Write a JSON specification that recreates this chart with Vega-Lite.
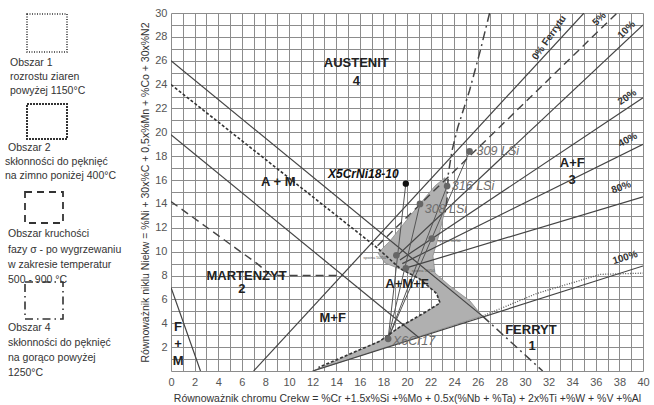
{
  "$schema": "https://vega.github.io/schema/vega-lite/v6.json",
  "autosize": {"type": "pad"},
  "padding": {"left": 0, "top": 7, "right": 11, "bottom": 5},
  "background": "white",
  "config": {"view": {"stroke": null}, "font": "Liberation Sans"},
  "spacing": 21,
  "bounds": "flush",
  "datasets": {
    "legend": [
      {"k": "b1", "x": 27, "x2": 67, "y": 1, "y2": 39},
      {"k": "b2", "x": 27, "x2": 67, "y": 91, "y2": 126},
      {"k": "b3", "x": 25, "x2": 63, "y": 179, "y2": 210},
      {"k": "b4", "x": 25, "x2": 63, "y": 269, "y2": 306}
    ],
    "legendText": [
      {"x": 10, "y": 50, "t": "Obszar 1"},
      {"x": 10, "y": 64, "t": "rozrostu ziaren"},
      {"x": 10, "y": 78, "t": "powyżej 1150°C"},
      {"x": 8, "y": 135, "t": "Obszar 2"},
      {"x": 5, "y": 149, "t": "skłonności do pęknięć"},
      {"x": 5, "y": 163, "t": "na zimno poniżej 400°C"},
      {"x": 8, "y": 221, "t": "Obszar kruchości"},
      {"x": 8, "y": 237, "t": "fazy σ - po wygrzewaniu"},
      {"x": 8, "y": 252, "t": "w zakresie temperatur"},
      {"x": 8, "y": 267, "t": "500 - 900 °C"},
      {"x": 8, "y": 315, "t": "Obszar 4"},
      {"x": 8, "y": 330, "t": "skłonności do pęknięć"},
      {"x": 8, "y": 345, "t": "na gorąco powyżej"},
      {"x": 8, "y": 360, "t": "1250°C"}
    ],
    "poly": [
      {"o": 1, "x": 12.03, "y": 0},
      {"o": 2, "x": 26.36, "y": 4.61},
      {"o": 3, "x": 25.34, "y": 5.87},
      {"o": 4, "x": 23.64, "y": 7.12},
      {"o": 5, "x": 22.37, "y": 8.21},
      {"o": 6, "x": 22.2, "y": 9.64},
      {"o": 7, "x": 22.8, "y": 11.74},
      {"o": 8, "x": 23.39, "y": 14.25},
      {"o": 9, "x": 23.22, "y": 16.2},
      {"o": 10, "x": 22.37, "y": 15.51},
      {"o": 11, "x": 20.25, "y": 12.99},
      {"o": 12, "x": 18.56, "y": 10.9},
      {"o": 13, "x": 17.54, "y": 9.89},
      {"o": 14, "x": 18.14, "y": 9.05},
      {"o": 15, "x": 19.41, "y": 8.55},
      {"o": 16, "x": 21.1, "y": 7.71},
      {"o": 17, "x": 22.54, "y": 6.54},
      {"o": 18, "x": 22.8, "y": 5.7},
      {"o": 19, "x": 21.53, "y": 4.86},
      {"o": 20, "x": 19.41, "y": 3.69},
      {"o": 21, "x": 17.71, "y": 2.51},
      {"o": 22, "x": 12.03, "y": 0}
    ],
    "lines": [
      {"id": "L1", "s": "solid", "o": 1, "x": 0, "y": 26},
      {"id": "L1", "s": "solid", "o": 2, "x": 26.4, "y": 4.6},
      {"id": "L3", "s": "solid", "o": 1, "x": 0, "y": 19.8},
      {"id": "L3", "s": "solid", "o": 2, "x": 21.0, "y": 2.8},
      {"id": "L5", "s": "solid", "o": 1, "x": 0, "y": 7},
      {"id": "L5", "s": "solid", "o": 2, "x": 2.5, "y": 0},
      {"id": "F0", "s": "solid", "o": 1, "x": 7, "y": 0},
      {"id": "F0", "s": "solid", "o": 2, "x": 35, "y": 30},
      {"id": "F10", "s": "solid", "o": 1, "x": 19, "y": 9.5},
      {"id": "F10", "s": "solid", "o": 2, "x": 40, "y": 29.0},
      {"id": "F20", "s": "solid", "o": 1, "x": 19.4, "y": 9.3},
      {"id": "F20", "s": "solid", "o": 2, "x": 40, "y": 22.9},
      {"id": "F40", "s": "solid", "o": 1, "x": 19.6, "y": 9.0},
      {"id": "F40", "s": "solid", "o": 2, "x": 40, "y": 19.0},
      {"id": "F80", "s": "solid", "o": 1, "x": 19.8, "y": 8.6},
      {"id": "F80", "s": "solid", "o": 2, "x": 40, "y": 14.6},
      {"id": "F100", "s": "solid", "o": 1, "x": 12, "y": 0},
      {"id": "F100", "s": "solid", "o": 2, "x": 40, "y": 8.8},
      {"id": "F5", "s": "dash", "o": 1, "x": 17.5, "y": 10.5},
      {"id": "F5", "s": "dash", "o": 2, "x": 37.8, "y": 30},
      {"id": "L4", "s": "dash", "o": 1, "x": 0, "y": 14.2},
      {"id": "L4", "s": "dash", "o": 2, "x": 7.3, "y": 9.0},
      {"id": "L4", "s": "dash", "o": 3, "x": 8.5, "y": 8.0},
      {"id": "L4", "s": "dash", "o": 4, "x": 14.4, "y": 8.0},
      {"id": "L2", "s": "sdash", "o": 1, "x": 0, "y": 24},
      {"id": "L2", "s": "sdash", "o": 2, "x": 17.5, "y": 10.3},
      {"id": "L2", "s": "sdash", "o": 3, "x": 19.4, "y": 8.6},
      {"id": "L2", "s": "sdash", "o": 4, "x": 21.1, "y": 7.7},
      {"id": "L2", "s": "sdash", "o": 5, "x": 22.5, "y": 6.5},
      {"id": "L2", "s": "sdash", "o": 6, "x": 22.8, "y": 5.7},
      {"id": "L2", "s": "sdash", "o": 7, "x": 21.5, "y": 4.9},
      {"id": "L2", "s": "sdash", "o": 8, "x": 19.4, "y": 3.7},
      {"id": "L2", "s": "sdash", "o": 9, "x": 17.7, "y": 2.5},
      {"id": "L2", "s": "sdash", "o": 10, "x": 12.5, "y": 0.3},
      {"id": "D1", "s": "dot", "o": 1, "x": 26.4, "y": 4.6},
      {"id": "D1", "s": "dot", "o": 2, "x": 31, "y": 6.5},
      {"id": "D1", "s": "dot", "o": 3, "x": 36.4, "y": 8.1},
      {"id": "D1", "s": "dot", "o": 4, "x": 40, "y": 8.2},
      {"id": "DD", "s": "dashdot", "o": 1, "x": 26.4, "y": 4.6},
      {"id": "DD", "s": "dashdot", "o": 2, "x": 31.5, "y": 0},
      {"id": "DC", "s": "dashdot", "o": 1, "x": 27.0, "y": 30},
      {"id": "DC", "s": "dashdot", "o": 2, "x": 26.2, "y": 26.8},
      {"id": "DC", "s": "dashdot", "o": 3, "x": 25.3, "y": 23.5},
      {"id": "DC", "s": "dashdot", "o": 4, "x": 24.3, "y": 20.4},
      {"id": "DC", "s": "dashdot", "o": 5, "x": 23.8, "y": 18.4},
      {"id": "DC", "s": "dashdot", "o": 6, "x": 23.5, "y": 16.5},
      {"id": "DC", "s": "dashdot", "o": 7, "x": 23.4, "y": 14.5},
      {"id": "DC", "s": "dashdot", "o": 8, "x": 23.2, "y": 13.0},
      {"id": "M1", "s": "mix", "o": 1, "x": 18.4, "y": 2.7},
      {"id": "M1", "s": "mix", "o": 2, "x": 19.9, "y": 15.7},
      {"id": "M2", "s": "mix", "o": 1, "x": 18.4, "y": 2.7},
      {"id": "M2", "s": "mix", "o": 2, "x": 21.1, "y": 14.0},
      {"id": "M3", "s": "mix", "o": 1, "x": 18.4, "y": 2.7},
      {"id": "M3", "s": "mix", "o": 2, "x": 23.4, "y": 15.5},
      {"id": "M4", "s": "mix", "o": 1, "x": 18.4, "y": 2.7},
      {"id": "M4", "s": "mix", "o": 2, "x": 25.3, "y": 18.4}
    ],
    "points": [
      {"k": "main", "x": 19.9, "y": 15.7},
      {"k": "fill", "x": 25.3, "y": 18.4},
      {"k": "fill", "x": 23.4, "y": 15.5},
      {"k": "fill", "x": 21.1, "y": 14.0},
      {"k": "fill", "x": 18.4, "y": 2.7},
      {"k": "weld", "x": 22.1, "y": 11.1},
      {"k": "weld", "x": 19.1, "y": 9.7},
      {"k": "weld", "x": 19.9, "y": 8.6}
    ],
    "labels": [
      {"g": "region", "x": 15.7, "y": 25.8, "t": "AUSTENIT"},
      {"g": "region", "x": 15.7, "y": 24.3, "t": "4"},
      {"g": "region", "x": 9.1, "y": 15.8, "t": "A + M"},
      {"g": "region", "x": 6.4, "y": 8.0, "t": "MARTENZYT"},
      {"g": "region", "x": 6.0, "y": 6.9, "t": "2"},
      {"g": "region", "x": 20.0, "y": 7.3, "t": "A+M+F"},
      {"g": "region", "x": 13.7, "y": 4.4, "t": "M+F"},
      {"g": "region", "x": 34.0, "y": 17.4, "t": "A+F"},
      {"g": "region", "x": 34.0, "y": 16.0, "t": "3"},
      {"g": "region", "x": 30.5, "y": 3.4, "t": "FERRYT"},
      {"g": "region", "x": 30.6, "y": 2.1, "t": "1"},
      {"g": "region", "x": 0.6, "y": 3.7, "t": "F"},
      {"g": "region", "x": 0.6, "y": 2.3, "t": "+"},
      {"g": "region", "x": 0.6, "y": 0.85, "t": "M"},
      {"g": "steel", "x": 16.3, "y": 16.5, "t": "X5CrNi18-10"},
      {"g": "filler", "x": 25.9, "y": 18.4, "t": "309 LSi"},
      {"g": "filler", "x": 23.8, "y": 15.5, "t": "316 LSi"},
      {"g": "filler", "x": 21.5, "y": 13.6, "t": "308 LSi"},
      {"g": "filler", "x": 18.8, "y": 2.5, "t": "X6Cr17"},
      {"g": "weld", "x": 22.6, "y": 10.9, "t": "spoina 50/50"},
      {"g": "weld", "x": 16.3, "y": 9.5, "t": "spoina 50/50"},
      {"g": "weld", "x": 20.4, "y": 8.4, "t": "spoina 50/50"},
      {"g": "f0", "x": 32.4, "y": 27.7, "t": "0% Ferrytu"},
      {"g": "f5", "x": 36.6, "y": 29.2, "t": "5%"},
      {"g": "f10", "x": 38.9, "y": 28.3, "t": "10%"},
      {"g": "f20", "x": 38.9, "y": 22.6, "t": "20%"},
      {"g": "f40", "x": 38.9, "y": 19.0, "t": "40%"},
      {"g": "f80", "x": 38.3, "y": 15.0, "t": "80%"},
      {"g": "f100", "x": 38.6, "y": 9.1, "t": "100%"}
    ]
  },
  "hconcat": [
    {
      "width": 150,
      "height": 358,
      "layer": [
        {
          "data": {"name": "legend"},
          "transform": [{"filter": "datum.k == 'b1'"}],
          "mark": {"type": "rect", "filled": false, "stroke": "#333", "strokeWidth": 1.6, "strokeDash": [1, 1.5]},
          "encoding": {
            "x": {"field": "x", "type": "quantitative", "scale": {"domain": [0, 150], "nice": false}, "axis": null},
            "x2": {"field": "x2"},
            "y": {"field": "y", "type": "quantitative", "scale": {"domain": [0, 358], "range": [0, 358], "nice": false}, "axis": null},
            "y2": {"field": "y2"}
          }
        },
        {
          "data": {"name": "legend"},
          "transform": [{"filter": "datum.k == 'b2'"}],
          "mark": {"type": "rect", "filled": false, "stroke": "#333", "strokeWidth": 2, "strokeDash": [2, 1]},
          "encoding": {"x": {"field": "x", "type": "quantitative"}, "x2": {"field": "x2"}, "y": {"field": "y", "type": "quantitative"}, "y2": {"field": "y2"}}
        },
        {
          "data": {"name": "legend"},
          "transform": [{"filter": "datum.k == 'b3'"}],
          "mark": {"type": "rect", "filled": false, "stroke": "#333", "strokeWidth": 1.8, "strokeDash": [7, 5]},
          "encoding": {"x": {"field": "x", "type": "quantitative"}, "x2": {"field": "x2"}, "y": {"field": "y", "type": "quantitative"}, "y2": {"field": "y2"}}
        },
        {
          "data": {"name": "legend"},
          "transform": [{"filter": "datum.k == 'b4'"}],
          "mark": {"type": "rect", "filled": false, "stroke": "#333", "strokeWidth": 1.6, "strokeDash": [8, 4, 1.5, 4]},
          "encoding": {"x": {"field": "x", "type": "quantitative"}, "x2": {"field": "x2"}, "y": {"field": "y", "type": "quantitative"}, "y2": {"field": "y2"}}
        },
        {
          "data": {"name": "legendText"},
          "mark": {"type": "text", "align": "left", "baseline": "middle", "fontSize": 10.5, "color": "#333"},
          "encoding": {
            "x": {"field": "x", "type": "quantitative"},
            "y": {"field": "y", "type": "quantitative"},
            "text": {"field": "t"}
          }
        }
      ]
    },
    {
      "width": 472,
      "height": 358,
      "encoding": {
        "x": {"field": "x", "type": "quantitative",
          "scale": {"domain": [0, 40], "nice": false, "zero": false},
          "axis": {"title": "Równoważnik chromu Crekw = %Cr +1.5x%Si +%Mo + 0.5x(%Nb + %Ta) + 2x%Ti +%W + %V +%Al",
            "values": [0,1,2,3,4,5,6,7,8,9,10,11,12,13,14,15,16,17,18,19,20,21,22,23,24,25,26,27,28,29,30,31,32,33,34,35,36,37,38,39,40],
            "labelExpr": "datum.value % 2 == 0 ? datum.label : ''",
            "labelOverlap": false, "labelFlush": false,
            "grid": true, "gridColor": "#8c8c8c", "gridOpacity": 1, "gridWidth": 1,
            "domain": false, "ticks": false, "labelPadding": 5, "labelFontSize": 11, "labelColor": "#555",
            "titleFontSize": 10.5, "titleFontWeight": "normal", "titleColor": "#333", "titlePadding": 6}},
        "y": {"field": "y", "type": "quantitative",
          "scale": {"domain": [0, 30], "nice": false, "zero": false},
          "axis": {"title": "Równoważnik niklu Niekw = %Ni + 30x%C + 0,5x%Mn + %Co + 30x%N2",
            "values": [0,1,2,3,4,5,6,7,8,9,10,11,12,13,14,15,16,17,18,19,20,21,22,23,24,25,26,27,28,29,30],
            "labelExpr": "datum.value % 2 == 0 && datum.value > 0 ? datum.label : ''",
            "labelOverlap": false, "labelFlush": false,
            "grid": true, "gridColor": "#8c8c8c", "gridOpacity": 1, "gridWidth": 1,
            "domain": false, "ticks": false, "labelPadding": 4, "labelFontSize": 11, "labelColor": "#555",
            "titleFontSize": 10.5, "titleFontWeight": "normal", "titleColor": "#333", "titlePadding": 4}}
      },
      "layer": [
        {
          "data": {"name": "poly"},
          "mark": {"type": "line", "fill": "#b0b0b0", "stroke": "#8a8a8a", "strokeWidth": 0.8, "clip": true},
          "encoding": {"order": {"field": "o", "type": "quantitative"}}
        },
        {
          "data": {"name": "lines"},
          "transform": [{"filter": "datum.s == 'solid'"}],
          "mark": {"type": "line", "color": "#444", "strokeWidth": 1.2, "clip": true},
          "encoding": {"detail": {"field": "id"}, "order": {"field": "o", "type": "quantitative"}}
        },
        {
          "data": {"name": "lines"},
          "transform": [{"filter": "datum.s == 'mix'"}],
          "mark": {"type": "line", "color": "#555", "strokeWidth": 1, "clip": true},
          "encoding": {"detail": {"field": "id"}, "order": {"field": "o", "type": "quantitative"}}
        },
        {
          "data": {"name": "lines"},
          "transform": [{"filter": "datum.s == 'dash'"}],
          "mark": {"type": "line", "color": "#444", "strokeWidth": 1.4, "strokeDash": [8, 5], "clip": true},
          "encoding": {"detail": {"field": "id"}, "order": {"field": "o", "type": "quantitative"}}
        },
        {
          "data": {"name": "lines"},
          "transform": [{"filter": "datum.s == 'sdash'"}],
          "mark": {"type": "line", "color": "#333", "strokeWidth": 1.6, "strokeDash": [3, 2], "clip": true},
          "encoding": {"detail": {"field": "id"}, "order": {"field": "o", "type": "quantitative"}}
        },
        {
          "data": {"name": "lines"},
          "transform": [{"filter": "datum.s == 'dot'"}],
          "mark": {"type": "line", "color": "#555", "strokeWidth": 1.3, "strokeDash": [1, 1.5], "clip": true},
          "encoding": {"detail": {"field": "id"}, "order": {"field": "o", "type": "quantitative"}}
        },
        {
          "data": {"name": "lines"},
          "transform": [{"filter": "datum.s == 'dashdot'"}],
          "mark": {"type": "line", "color": "#444", "strokeWidth": 1.5, "strokeDash": [9, 4, 2, 4], "clip": true},
          "encoding": {"detail": {"field": "id"}, "order": {"field": "o", "type": "quantitative"}}
        },
        {
          "data": {"name": "points"},
          "transform": [{"filter": "datum.k == 'main'"}],
          "mark": {"type": "circle", "color": "#111", "size": 40, "opacity": 1}
        },
        {
          "data": {"name": "points"},
          "transform": [{"filter": "datum.k != 'main'"}],
          "mark": {"type": "circle", "color": "#666", "size": 45, "opacity": 1}
        },
        {
          "data": {"name": "labels"},
          "transform": [{"filter": "datum.g == 'region'"}],
          "mark": {"type": "text", "fontSize": 13, "fontWeight": "bold", "color": "#222", "baseline": "middle"},
          "encoding": {"text": {"field": "t"}}
        },
        {
          "data": {"name": "labels"},
          "transform": [{"filter": "datum.g == 'steel'"}],
          "mark": {"type": "text", "fontSize": 12, "fontWeight": "bold", "fontStyle": "italic", "color": "#111", "baseline": "middle"},
          "encoding": {"text": {"field": "t"}}
        },
        {
          "data": {"name": "labels"},
          "transform": [{"filter": "datum.g == 'filler'"}],
          "mark": {"type": "text", "fontSize": 12.5, "fontStyle": "italic", "color": "#6e6e6e", "align": "left", "baseline": "middle"},
          "encoding": {"text": {"field": "t"}}
        },
        {
          "data": {"name": "labels"},
          "transform": [{"filter": "datum.g == 'weld'"}],
          "mark": {"type": "text", "fontSize": 4, "color": "#555", "align": "left", "baseline": "middle"},
          "encoding": {"text": {"field": "t"}}
        },
        {
          "data": {"name": "labels"},
          "transform": [{"filter": "datum.g == 'f0'"}],
          "mark": {"type": "text", "fontSize": 10, "fontWeight": "bold", "color": "#333", "angle": 305, "baseline": "bottom"},
          "encoding": {"text": {"field": "t"}}
        },
        {
          "data": {"name": "labels"},
          "transform": [{"filter": "datum.g == 'f5' || datum.g == 'f10'"}],
          "mark": {"type": "text", "fontSize": 10, "fontWeight": "bold", "color": "#333", "angle": 315, "baseline": "bottom"},
          "encoding": {"text": {"field": "t"}}
        },
        {
          "data": {"name": "labels"},
          "transform": [{"filter": "datum.g == 'f20'"}],
          "mark": {"type": "text", "fontSize": 10, "fontWeight": "bold", "color": "#333", "angle": 326, "baseline": "bottom"},
          "encoding": {"text": {"field": "t"}}
        },
        {
          "data": {"name": "labels"},
          "transform": [{"filter": "datum.g == 'f40'"}],
          "mark": {"type": "text", "fontSize": 10, "fontWeight": "bold", "color": "#333", "angle": 332, "baseline": "bottom"},
          "encoding": {"text": {"field": "t"}}
        },
        {
          "data": {"name": "labels"},
          "transform": [{"filter": "datum.g == 'f80'"}],
          "mark": {"type": "text", "fontSize": 10, "fontWeight": "bold", "color": "#333", "angle": 340, "baseline": "bottom"},
          "encoding": {"text": {"field": "t"}}
        },
        {
          "data": {"name": "labels"},
          "transform": [{"filter": "datum.g == 'f100'"}],
          "mark": {"type": "text", "fontSize": 10, "fontWeight": "bold", "color": "#333", "angle": 343, "baseline": "bottom"},
          "encoding": {"text": {"field": "t"}}
        }
      ]
    }
  ]
}
